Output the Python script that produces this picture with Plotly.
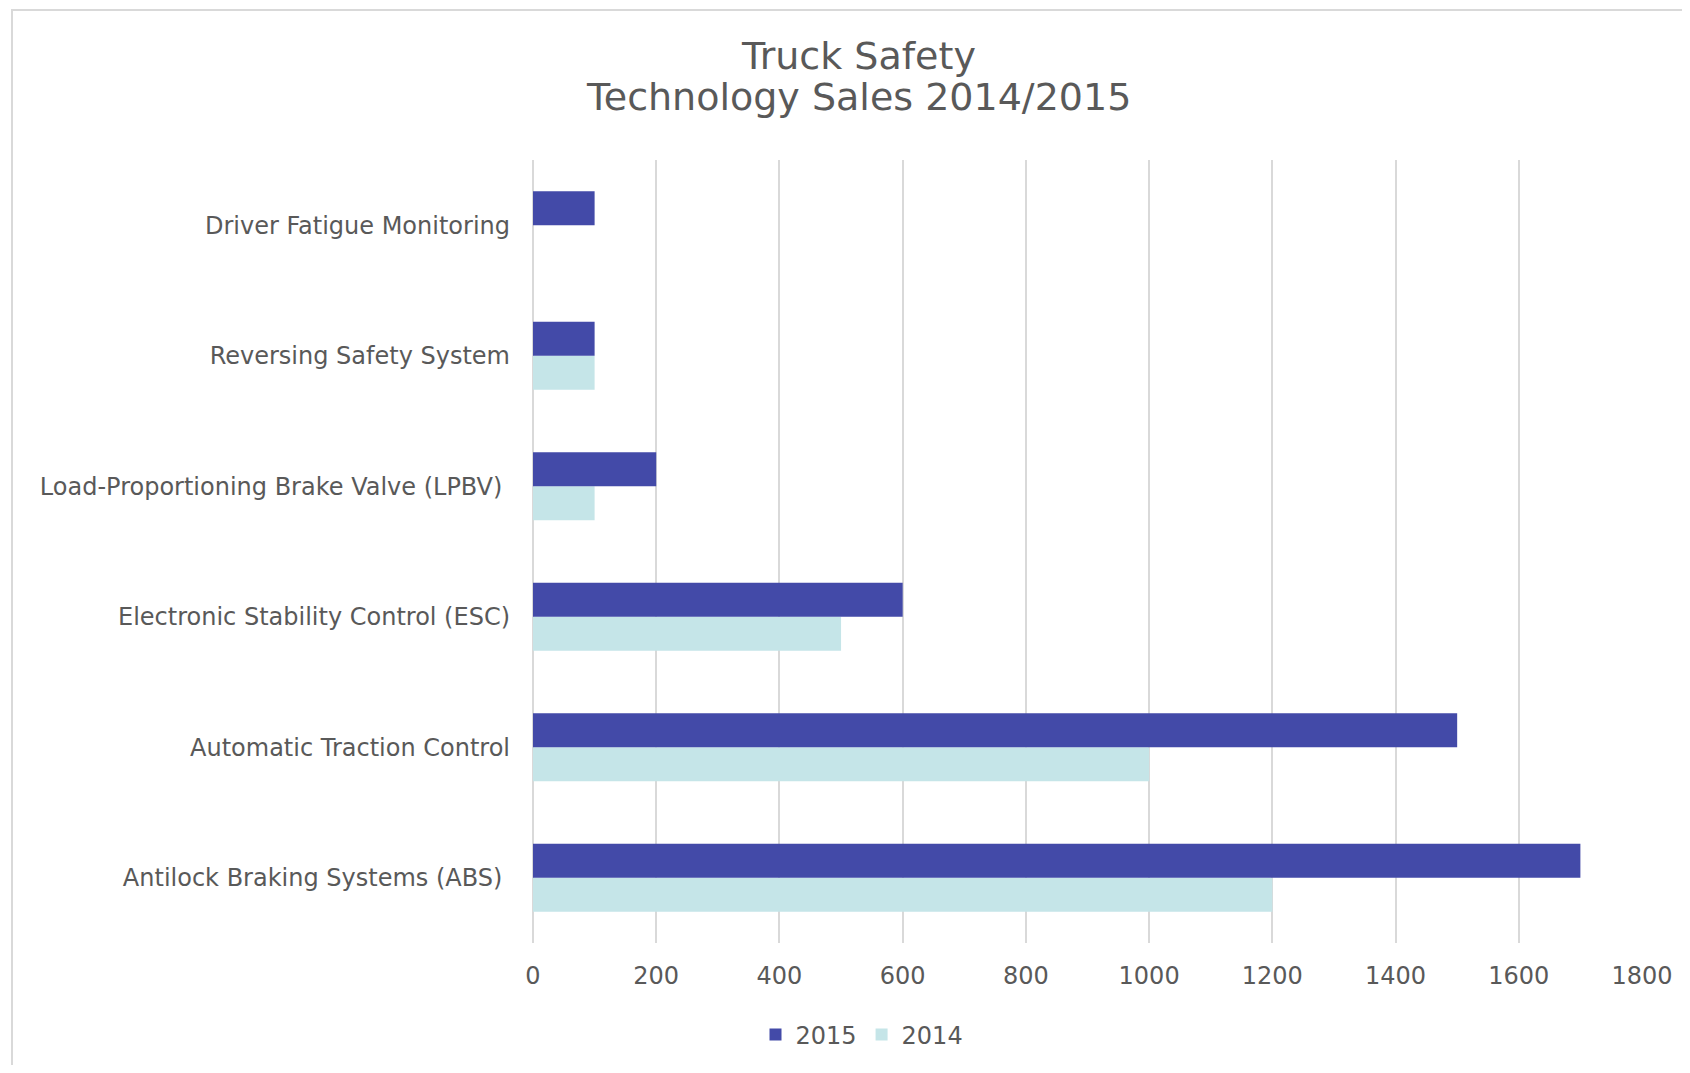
import plotly.graph_objects as go

categories = [
    "Antilock Braking Systems (ABS)\u00a0",
    "Automatic Traction Control",
    "Electronic Stability Control (ESC)",
    "Load-Proportioning Brake Valve (LPBV)\u00a0",
    "Reversing Safety System",
    "Driver Fatigue Monitoring",
]
sales_2015 = [1700, 1500, 600, 200, 100, 100]
sales_2014 = [1200, 1000, 500, 100, 100, 0]
x_ticks = [0, 200, 400, 600, 800, 1000, 1200, 1400, 1600, 1800]
title_line1 = "Truck Safety"
title_line2 = "Technology Sales 2014/2015"

O = 8  # page body margin
W, H = 1690 - 2 * O, 1073 - 2 * O
L = 533 - O
T = 160 - O
R = W - (1642 - O)
B = H - (943 - O)
pw, ph = W - L - R, H - T - B

def px(x):
    return (x - O - L) / pw

def py(y):
    return (H - B - (y - O)) / ph

TEXT = "#595959"
FONT = "DejaVu Sans"

fig = go.Figure()
fig.add_trace(go.Bar(y=categories, x=sales_2014, name="2014", orientation="h",
                     marker=dict(color="#C5E5E8", line=dict(width=0))))
fig.add_trace(go.Bar(y=categories, x=sales_2015, name="2015", orientation="h",
                     marker=dict(color="#434AA8", line=dict(width=0))))

fig.update_layout(
    width=W, height=H,
    margin=dict(l=L, r=R, t=T, b=B, autoexpand=False),
    paper_bgcolor="white", plot_bgcolor="white",
    barmode="group", bargap=0.48, bargroupgap=0,
    font=dict(family=FONT, color=TEXT, size=24),
    showlegend=True,
    legend=dict(orientation="h", x=px(862), xanchor="center", y=py(1035), yanchor="middle",
                traceorder="reversed", font=dict(size=24, color=TEXT), itemwidth=30),
    xaxis=dict(range=[0, 1800], tickvals=x_ticks, showgrid=True, gridcolor="#d9d9d9",
               gridwidth=1.5, zeroline=True, zerolinecolor="#d9d9d9", zerolinewidth=1.5,
               showline=False, ticks="", ticklabelstandoff=16, fixedrange=True,
               automargin=False),
    yaxis=dict(categoryorder="array", categoryarray=categories, showgrid=False,
               ticks="", ticklabelstandoff=22, showline=False, automargin=False),
    annotations=[
        dict(text=title_line1, x=px(858), y=py(56), xref="paper", yref="paper",
             xanchor="center", yanchor="middle", showarrow=False,
             font=dict(size=38, color=TEXT, family=FONT)),
        dict(text=title_line2, x=px(858), y=py(97), xref="paper", yref="paper",
             xanchor="center", yanchor="middle", showarrow=False,
             font=dict(size=38, color=TEXT, family=FONT)),
    ],
    shapes=[
        dict(type="rect", xref="paper", yref="paper", x0=px(12), x1=px(1760),
             y0=py(1140), y1=py(10), line=dict(color="#d9d9d9", width=2),
             fillcolor="rgba(0,0,0,0)", layer="below"),
    ],
)

fig.write_html("out.html")
